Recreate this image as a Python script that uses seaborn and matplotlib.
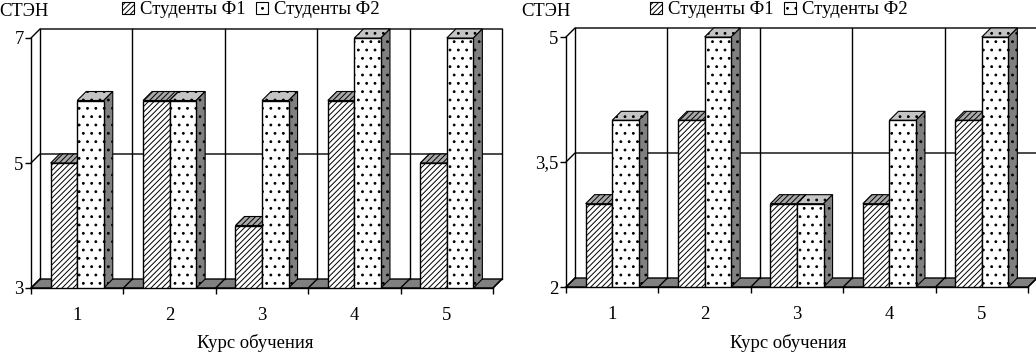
import matplotlib
matplotlib.use('Agg')
import matplotlib.hatch
import matplotlib.pyplot as plt
import pandas as pd
import seaborn as sns
from matplotlib.patches import Patch, Polygon

# Values
courses = ['1', '2', '3', '4', '5']
series_names = ['Студенты Ф1', 'Студенты Ф2']
left_f1 = [5, 6, 4, 6, 5]
left_f2 = [6, 6, 6, 7, 7]
right_f1 = [3, 4, 3, 3, 4]
right_f2 = [4, 5, 3, 4, 5]
left_ticks = [3, 5, 7]
left_tick_labels = ['3', '5', '7']
right_ticks = [2, 3.5, 5]
right_tick_labels = ['2', '3,5', '5']

W, H = 1036, 354
DEPTH = 9  # depth of the fake 3d effect, px
LW = 1.0
FS = 13.4
HATCHES = ['//////', '..']
TOP_GREY = ['#a8a8a8', '#c4c4c4']
SIDE_GREY = '#808080'

plt.rcParams['font.family'] = ['Liberation Serif', 'DejaVu Serif']
plt.rcParams['hatch.linewidth'] = 0.7
# the default dots are much bigger than the printed ones
matplotlib.hatch.SmallFilledCircles.size = 0.11


def shift(ax, x, y):
    """ Moves a data point back along the depth direction """
    px, py = ax.transData.transform((x, y))
    return ax.transData.inverted().transform((px + DEPTH, py + DEPTH))


def extrude(ax, x0, y0, x1, y1, **kw):
    """ Adds the parallelogram between an edge and its shifted copy """
    pts = [(x0, y0), (x1, y1), shift(ax, x1, y1), shift(ax, x0, y0)]
    ax.add_patch(Polygon(pts, closed=True, clip_on=False, **kw))


def chart(left_px, base_px, f1, f2, ticks, tick_labels, label_px, ylabel_px, legend_px):
    # Front plane of the chart in pixels
    ax = fig.add_axes([left_px / W, 1 - base_px / H, 462 / W, 250 / H])
    df = pd.DataFrame({
        'course': courses * 2,
        'value': f1 + f2,
        'series': [series_names[0]] * 5 + [series_names[1]] * 5,
    })
    sns.barplot(data=df, x='course', y='value', hue='series', order=courses,
                hue_order=series_names, width=0.575, gap=0, dodge=True,
                palette=['white', 'white'], edgecolor='black', linewidth=LW,
                legend=False, errorbar=None, ax=ax, zorder=5)
    ax.set_xlim(-0.5, 4.5)
    ax.set_ylim(ticks[0], ticks[-1])
    ax.patch.set_visible(False)
    sns.despine(ax=ax, top=True, right=True)
    for spine in ax.spines.values():
        spine.set_linewidth(LW)
        spine.set_zorder(6)

    base, top = ticks[0], ticks[-1]
    edges = [i - 0.5 for i in range(len(courses) + 1)]

    # Floor
    extrude(ax, edges[0], base, edges[-1], base, facecolor=SIDE_GREY,
            edgecolor='black', linewidth=LW, zorder=1)
    for e in edges:
        a = shift(ax, e, base)
        ax.plot([e, a[0]], [base, a[1]], color='black', lw=LW, clip_on=False, zorder=2)

    # Back wall: verticals, horizontals and their links to the left wall
    for e in edges:
        a, b = shift(ax, e, base), shift(ax, e, top)
        ax.plot([a[0], b[0]], [a[1], b[1]], color='black', lw=LW,
                clip_on=False, zorder=2)
    for t in ticks[1:]:
        a, b = shift(ax, edges[0], t), shift(ax, edges[-1], t)
        ax.plot([edges[0], a[0], b[0]], [t, a[1], b[1]], color='black', lw=LW,
                clip_on=False, zorder=2)

    # Bars come from seaborn, top and side faces are built from their patches
    for h, container in enumerate(ax.containers):
        for bar in container:
            bar.set_hatch(HATCHES[h])
            x0, x1 = bar.get_x(), bar.get_x() + bar.get_width()
            val = bar.get_height()
            z = 4 if h == 0 else 4.5
            extrude(ax, x0, val, x1, val, facecolor=TOP_GREY[h], edgecolor='black',
                    linewidth=0.8, hatch=HATCHES[h], zorder=z)
            extrude(ax, x1, base, x1, val, facecolor=SIDE_GREY, edgecolor='black',
                    linewidth=0.8, hatch=HATCHES[h] if h else None, zorder=z)

    ax.set_yticks(ticks, tick_labels)
    ax.set_xticks(range(len(courses)), courses)
    ax.set_xticks(edges, minor=True)
    ax.tick_params(axis='x', which='major', length=0, labelsize=FS, pad=14)
    ax.tick_params(axis='x', which='minor', length=4.3, width=LW)
    ax.tick_params(axis='y', length=4.3, width=LW, labelsize=FS, pad=1)
    ax.set_ylabel('')
    ax.set_xlabel('')
    fig.text(label_px / W, 1 - 343 / H, 'Курс обучения', fontsize=FS,
             ha='center', va='center')
    fig.text(ylabel_px / W, 1 - 12 / H, 'СТЭН', fontsize=FS, ha='left', va='center')

    # Legend
    handles = [Patch(facecolor='white', edgecolor='black', hatch=HATCHES[0], linewidth=0.8),
               Patch(facecolor='white', edgecolor='black', hatch=HATCHES[1], linewidth=0.8)]
    ax.legend(handles, series_names, ncol=2, frameon=False, fontsize=FS,
              loc='center', bbox_to_anchor=(legend_px / W, 1 - 10 / H),
              bbox_transform=fig.transFigure, handlelength=0.65, handleheight=0.65,
              handletextpad=0.32, columnspacing=0.54, borderpad=0, borderaxespad=0)


fig = plt.figure(figsize=(W / 100, H / 100), dpi=100)
chart(31, 288, left_f1, left_f2, left_ticks, left_tick_labels, 255, -1, 251)
chart(566, 287, right_f1, right_f2, right_ticks, right_tick_labels, 788, 521, 779)
fig.savefig('out.png', dpi=100)
